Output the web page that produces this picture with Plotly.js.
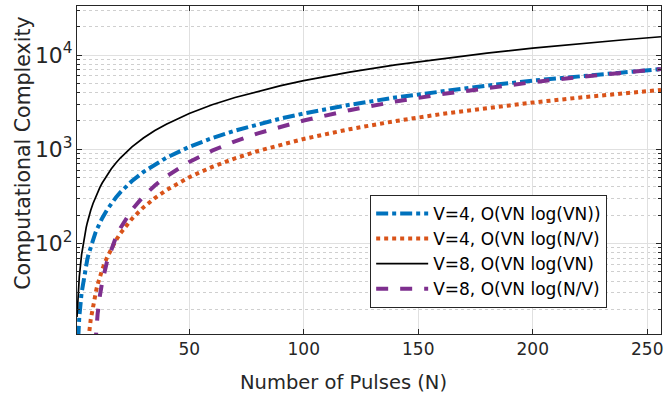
<!DOCTYPE html>
<html>
<head>
<meta charset="utf-8">
<script src="https://cdn.plot.ly/plotly-3.0.1.min.js"></script>
<style>html,body{margin:0;padding:0;background:#fff;}#chart{width:668px;height:397px;}</style>
</head>
<body>
<div id="chart"></div>
<script>
const N = [1,2,3,4,5,5.5,6,7,8,9,9.5,10,11,12,14,16,18,20,25,30,35,40,50,60,70,80,90,100,120,140,160,180,200,220,240,256];
const v4LogVN = [5.55,16.64,29.82,44.36,59.91,68.00,76.27,93.30,110.90,129.01,138.23,147.56,166.50,185.82,225.42,266.17,307.92,350.56,460.52,574.50,691.83,812.03,1059.66,1315.35,1577.74,1845.86,2119.00,2396.59,2963.44,3543.65,4135.35,4737.07,5347.71,5966.35,6592.27,7097.83];
const v4LogNV = [null,null,null,null,4.46,7.0,9.73,15.67,22.18,29.19,32.87,36.65,44.51,52.73,70.15,88.72,108.29,128.76,183.26,241.79,303.67,368.41,505.15,649.93,801.42,958.64,1120.86,1287.55,1632.57,1990.98,2360.89,2740.82,3129.62,3526.44,3930.55,4258.70];
const v8LogVN = [16.64,44.36,76.27,110.90,147.56,166.50,185.82,225.42,266.17,307.92,329.14,350.56,394.00,438.17,528.47,621.06,715.66,812.03,1059.66,1315.35,1577.74,1845.86,2396.59,2963.44,3543.65,4135.35,4737.07,5347.71,6592.27,7863.6,9157.9,10472.3,11804.4,13152.6,14515.4,15615.2];
const v8LogNV = [null,null,null,null,null,null,null,null,null,8.48,13.06,17.85,28.02,38.92,62.68,88.72,116.77,146.61,227.89,317.22,413.26,515.02,733.03,967.15,1214.69,1473.63,1742.70,2020.59,2599.73,3205.7,3834.5,4483.4,5150.2,5833.0,6530.3,7097.8];
const names = ['V=4, O(VN log(VN))','V=4, O(VN log(N/V)','V=8, O(VN log(VN)','V=8, O(VN log(N/V)'];
const xTicks = [50,100,150,200,250];
const xTitle = 'Number of Pulses (N)';
const yTitle = 'Computational Complexity';

const traces = [
  {x:N, y:v4LogVN, name:names[0], mode:'lines', line:{color:'#0072BD', width:4, dash:'dashdot'}},
  {x:N, y:v4LogNV, name:names[1], mode:'lines', line:{color:'#D95319', width:4, dash:'dot'}},
  {x:N, y:v8LogVN, name:names[2], mode:'lines', line:{color:'#000000', width:1.7}},
  {x:N, y:v8LogNV, name:names[3], mode:'lines', line:{color:'#7E2F8E', width:4, dash:'dash'}}
];

const layout = {
  width:668, height:397,
  margin:{l:77, r:7, t:6, b:63},
  paper_bgcolor:'#fff', plot_bgcolor:'#fff',
  font:{family:'DejaVu Sans, Verdana, sans-serif', size:16, color:'#262626'},
  showlegend:true,
  legend:{x:0.502, y:0.424, xanchor:'left', yanchor:'top', bgcolor:'#fff', bordercolor:'#262626', borderwidth:1, font:{size:17, color:'#000'}, tracegroupgap:0, itemwidth:52},
  xaxis:{
    range:[1,256], tickvals:xTicks, ticks:'inside', ticklen:5, tickcolor:'#262626',
    showline:true, linecolor:'#262626', linewidth:1, mirror:'ticks',
    showgrid:true, gridcolor:'#e0e0e0', zeroline:false,
    tickfont:{size:17}
  },
  yaxis:{
    type:'log', range:[1.04,4.52], dtick:1, exponentformat:'power', showexponent:'all',
    ticks:'inside', ticklen:5, tickcolor:'#262626',
    showline:true, linecolor:'#262626', linewidth:1, mirror:'ticks',
    showgrid:true, gridcolor:'#e0e0e0', zeroline:false,
    tickfont:{size:17.5},
    minor:{dtick:'D1', ticks:'inside', ticklen:3, tickcolor:'#262626', showgrid:true, gridcolor:'#cfcfcf', griddash:'dot', gridwidth:1}
  },
  annotations:[
    {text:xTitle, xref:'paper', yref:'paper', x:0.4555, y:-0.149, xanchor:'center', yanchor:'middle', showarrow:false, font:{size:19.5, color:'#262626'}},
    {text:yTitle, xref:'paper', yref:'paper', x:-0.094, y:0.55, xanchor:'center', yanchor:'middle', textangle:-90, showarrow:false, font:{size:20.5, color:'#262626'}}
  ]
};

Plotly.newPlot('chart', traces, layout, {displayModeBar:false, staticPlot:true});
</script>
</body>
</html>
